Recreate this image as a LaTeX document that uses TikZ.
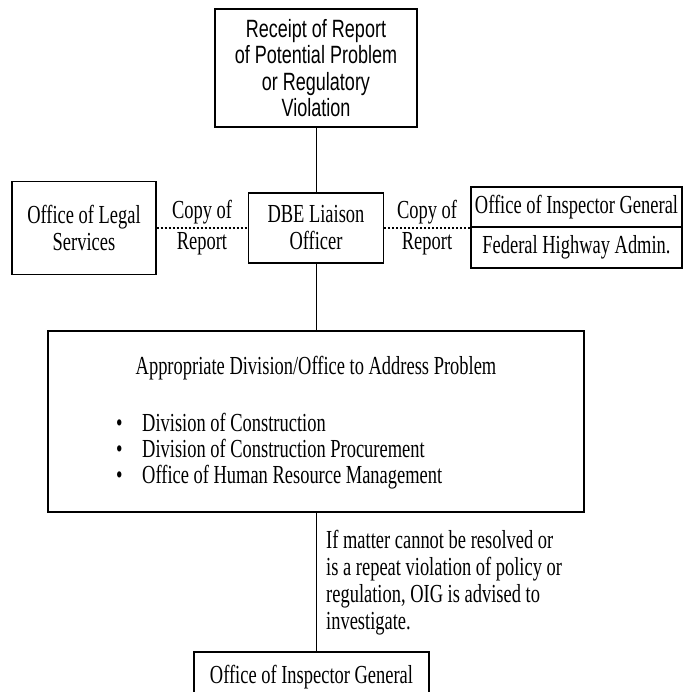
\documentclass[tikz,border=0pt]{standalone}
\usepackage{fontspec}
\setmainfont{Liberation Serif}[FakeStretch=0.71]
\newfontfamily\headfont{Liberation Sans}[FakeStretch=0.72]
\usepackage{tikz}

\tikzset{
  box/.style={draw,line width=1.2pt,inner sep=0pt,align=center,font=\fontsize{26}{27}\selectfont},
  txt/.style={inner sep=0pt,font=\fontsize{26}{27}\selectfont},
  copyline/.style={dotted,line width=2pt},
  link/.style={line width=1pt}
}

\begin{document}
\begin{tikzpicture}[x=1pt,y=-1pt]
            \clip (0,0) rectangle (683,692);
            \node[box,minimum width=202pt,minimum height=118pt,font=\headfont\fontsize{25}{26.5}\selectfont] at (316,68) (receipt) {Receipt of Report\\of Potential Problem\\or Regulatory\\Violation};
            \node[box,minimum width=144pt,minimum height=93pt] at (84,228) (legal) {Office of Legal\\Services};
            \node[box,minimum width=135pt,minimum height=70pt] at (316,228) (dbe) {DBE Liaison\\Officer};
            \node[box,minimum width=211pt,minimum height=40pt] at (576.5,207) (oigcopy) {Office of Inspector General};
            \node[box,minimum width=211pt,minimum height=41pt] at (576.5,247.5) (fhwa) {Federal Highway Admin.};
            \node[txt,align=center,font=\fontsize{26}{31}\selectfont] at (202,228) (copylegal) {Copy of\\Report};
            \node[txt,align=center,font=\fontsize{26}{31}\selectfont] at (427,228) (copyoig) {Copy of\\Report};
            \node[box,minimum width=536pt,minimum height=181pt] at (316,421.5) (division) {};
            \node[txt] at (316,368) (divtitle) {Appropriate Division/Office to Address Problem};
            \node[txt,anchor=west,align=left,font=\fontsize{26}{26}\selectfont] at (116,451) (divlist) {\makebox[26pt][l]{\textbullet}Division of Construction\\\makebox[26pt][l]{\textbullet}Division of Construction Procurement\\\makebox[26pt][l]{\textbullet}Office of Human Resource Management};
            \node[txt,anchor=west,align=left] at (326,582.5) (escalate) {If matter cannot be resolved or\\is a repeat violation of policy or\\regulation, OIG is advised to\\investigate.};
            \node[box,minimum width=235pt,minimum height=50pt] at (311.5,677) (oig) {Office of Inspector General};
            \draw[link] (receipt) to (dbe);
            \draw[link] (dbe) to (division);
            \draw[copyline] (legal) to (dbe);
            \draw[copyline] (dbe) to (dbe -| oigcopy.west);
            \draw[link] (division.south) to (division.south |- oig.north);
        \end{tikzpicture}
\end{document}
